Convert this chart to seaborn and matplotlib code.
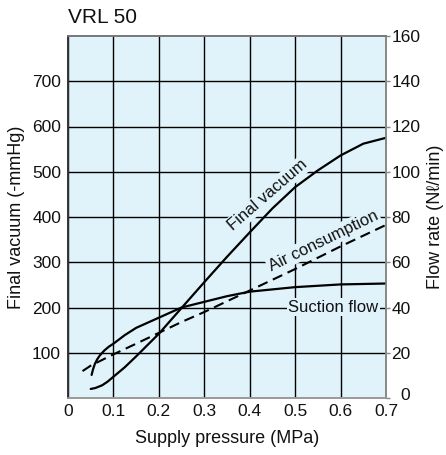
import numpy as np
import pandas as pd
import seaborn as sns
import matplotlib
matplotlib.use("Agg")
import matplotlib.pyplot as plt

sns.set_theme(style="white")
plt.rcParams["font.family"] = ["Liberation Sans", "DejaVu Sans"]
plt.rcParams["text.color"] = "#111111"
plt.rcParams["axes.labelcolor"] = "#111111"

# values
vac_p = [0.05, 0.06, 0.075, 0.087, 0.1, 0.125, 0.15, 0.2, 0.25, 0.3, 0.35, 0.4,
         0.45, 0.5, 0.55, 0.6, 0.65, 0.7]
vac_mmhg = [20, 22, 28, 36, 47, 68, 92, 142, 199, 256, 312, 366,
            419, 466, 503, 536, 562, 575]

suc_p = [0.052, 0.055, 0.059, 0.064, 0.07, 0.08, 0.09, 0.1, 0.125, 0.15, 0.2,
         0.25, 0.3, 0.35, 0.4, 0.5, 0.6, 0.7]
suc_flow = [10.2, 12.6, 15.0, 17.0, 18.8, 21.0, 22.7, 24.0, 27.8, 31.0, 35.5,
            40.0, 42.5, 45.0, 47.0, 49.0, 50.2, 50.6]

air_p = [0.032, 0.05, 0.1, 0.15, 0.2, 0.25, 0.3, 0.4, 0.5, 0.6, 0.7]
air_flow = [11.9, 14.3, 19.3, 24.0, 28.8, 33.6, 38.0, 47.5, 57.0, 67.0, 76.5]

x_ticks = [0, 0.1, 0.2, 0.3, 0.4, 0.5, 0.6, 0.7]
vac_ticks = [100, 200, 300, 400, 500, 600, 700]
flow_ticks = [0, 20, 40, 60, 80, 100, 120, 140, 160]

bg = "#e0f3fa"

fig = plt.figure(figsize=(4.46, 4.55), dpi=100)
ax = fig.add_axes([68 / 446, 1 - 398 / 455, 318 / 446, 362 / 455])
ax.set_facecolor(bg)
ax2 = ax.twinx()

sns.lineplot(x=vac_p, y=vac_mmhg, ax=ax, color="black", lw=1.6, zorder=5)
sns.lineplot(x=suc_p, y=suc_flow, ax=ax2, color="black", lw=1.6)
sns.lineplot(x=air_p, y=air_flow, ax=ax2, color="black", lw=1.5,
             linestyle=(0, (5, 2.8)))

ax.set_xlim(0, 0.7)
ax.set_ylim(0, 800)
ax2.set_ylim(0, 160)

ax.set_xticks(x_ticks)
ax.set_xticklabels(["0" if t == 0 else f"{t:.1f}" for t in x_ticks])
ax.set_yticks(vac_ticks)
ax2.set_yticks(flow_ticks)
# the right "0" sits just past the "0.7" label, drawn on its own below
ax2.set_yticklabels(["" if t == 0 else str(t) for t in flow_ticks])
ax2.annotate("0", xy=(0.7, 0), xycoords="data", xytext=(10, 2),
             textcoords="offset points", ha="left", va="center", fontsize=12.5,
             annotation_clip=False)

ax.grid(True, color="black", lw=1.0)
ax.tick_params(axis="both", length=0, labelsize=12.5, colors="#111111")
ax.tick_params(axis="y", pad=5)
ax.tick_params(axis="x", pad=4)
ax2.tick_params(axis="y", length=3, width=1, color="#888888", pad=1,
                labelsize=12.5, labelcolor="#111111")

ax.set_xlabel("Supply pressure (MPa)", fontsize=13, labelpad=8)
ax.set_ylabel("Final vacuum (-mmHg)", fontsize=13, labelpad=5)
ax2.set_ylabel("Flow rate (N\u2113/min)", fontsize=13, labelpad=5)

for a in (ax, ax2):
    for side, col in [("left", "#333333"), ("bottom", "#999999"),
                      ("top", "#777777"), ("right", "#888888")]:
        a.spines[side].set_color(col)
        a.spines[side].set_linewidth(1.2)

# curve labels sit on the lower axes: they hide the grid but not the curves
box = dict(facecolor=bg, edgecolor="none", pad=1.2)
ax.text(0.439, 448, "Final vacuum", rotation=41, ha="center", va="center",
        rotation_mode="anchor", fontsize=12, bbox=box, zorder=3)
ax.text(0.562, 348, "Air consumption", rotation=26, ha="center", va="center",
        rotation_mode="anchor", fontsize=12, bbox=box, zorder=3)
ax.text(0.584, 201, "Suction flow", ha="center", va="center",
        fontsize=12, bbox=box, zorder=3)

fig.text(68 / 446, 1 - 23 / 455, "VRL 50", fontsize=15, va="baseline", ha="left")

fig.savefig("out.png", dpi=100)
